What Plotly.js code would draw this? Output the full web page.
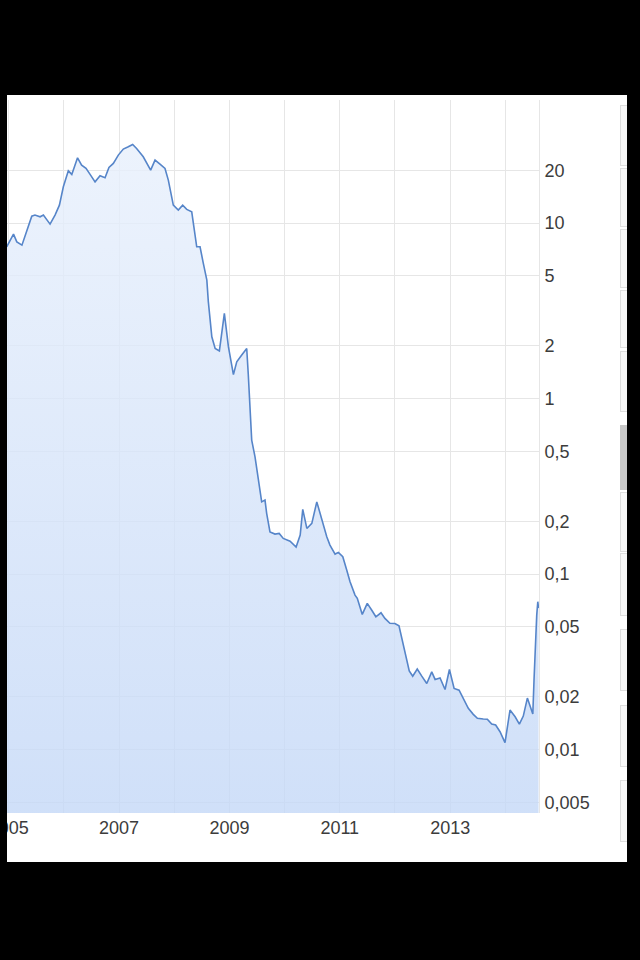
<!DOCTYPE html>
<html>
<head>
<meta charset="utf-8">
<script src="https://cdn.plot.ly/plotly-3.0.1.min.js"></script>
<style>
  html, body { margin: 0; padding: 0; background: #000; width: 640px; height: 960px; overflow: hidden; }
  #panel { position: absolute; left: 7px; top: 95px; width: 620px; height: 767px; background: #fff; overflow: hidden; }
  #chart { position: absolute; left: 0; top: 0; width: 620px; height: 767px; }
  .box { position: absolute; left: 613px; width: 12px; background: #f8f8f8; border: 1px solid #dedede; box-sizing: border-box; }
  .bar { position: absolute; left: 613px; width: 12px; background: #c9c9c9; }
</style>
</head>
<body>
<div id="panel">
  <div id="chart"></div>
</div>
<script>
// Dates of the series points
const dates = [
  '2004-12-18','2005-02-01','2005-02-23','2005-03-29','2005-04-28','2005-06-02','2005-06-23','2005-07-27','2005-08-18','2005-10-01',
  '2005-11-03','2005-12-02','2005-12-28','2006-01-30','2006-02-22','2006-04-01','2006-04-28','2006-05-27','2006-06-23','2006-07-26',
  '2006-08-28','2006-09-30','2006-10-26','2006-11-24','2006-12-27','2007-01-29','2007-03-03','2007-04-01','2007-04-27','2007-06-10',
  '2007-07-29','2007-08-27','2007-09-29','2007-11-01','2007-11-23','2007-12-26','2008-01-28','2008-02-26','2008-03-24','2008-04-26',
  '2008-05-29','2008-06-20','2008-07-10','2008-08-04','2008-08-14','2008-09-06','2008-09-28','2008-10-26','2008-11-28','2008-12-25',
  '2009-01-27','2009-02-18','2009-03-23','2009-04-25','2009-05-05','2009-05-17','2009-05-28','2009-06-19','2009-07-07','2009-07-22',
  '2009-08-02','2009-08-24','2009-09-04','2009-09-26','2009-10-29','2009-11-26','2009-12-23','2010-02-06','2010-03-18','2010-04-14',
  '2010-05-01','2010-05-28','2010-06-30','2010-08-02','2010-09-04','2010-10-07','2010-10-28','2010-12-01','2010-12-23','2011-01-21',
  '2011-02-16','2011-03-10','2011-04-12','2011-04-27','2011-05-30','2011-07-02','2011-07-31','2011-08-28','2011-10-01','2011-10-27',
  '2011-11-29','2012-01-01','2012-01-28','2012-02-22','2012-03-14','2012-04-05','2012-04-28','2012-05-28','2012-06-27','2012-07-30',
  '2012-09-01','2012-09-23','2012-10-26','2012-11-28','2012-12-27','2013-01-27','2013-03-01','2013-03-29','2013-05-01','2013-06-03',
  '2013-06-30','2013-08-08','2013-09-04','2013-10-03','2013-10-29','2013-11-27','2013-12-30','2014-02-01','2014-03-07','2014-04-04',
  '2014-04-30','2014-05-27','2014-06-14','2014-07-02','2014-07-10','2014-07-17','2014-07-28','2014-08-04','2014-08-09'
];
// Series values
const values = [
  7.33, 8.66, 7.82, 7.49, 8.92, 10.96, 11.11, 10.86, 11.11, 9.87,
  11.11, 12.66, 16.10, 19.86, 18.95, 23.56, 21.41, 20.50, 18.95, 17.19,
  18.60, 18.12, 20.77, 21.89, 24.41, 26.41, 27.22, 28.08, 26.65, 23.87,
  20.04, 22.86, 21.69, 20.50, 17.58, 12.66, 11.86, 12.66, 11.97, 11.60,
  7.33, 7.33, 6.00, 4.73, 3.56, 2.25, 1.93, 1.87, 3.06, 1.97,
  1.37, 1.62, 1.77, 1.93, 1.39, 0.939, 0.580, 0.466, 0.375, 0.301,
  0.258, 0.264, 0.222, 0.174, 0.169, 0.1705, 0.1597, 0.154, 0.1425, 0.167,
  0.2337, 0.182, 0.1945, 0.258, 0.203, 0.1632, 0.1463, 0.130, 0.1329, 0.1255,
  0.1054, 0.0904, 0.0759, 0.0727, 0.0589, 0.0681, 0.0624, 0.0571, 0.0602, 0.0559,
  0.0524, 0.0523, 0.0507, 0.0411, 0.0331, 0.0281, 0.0262, 0.0288, 0.0262, 0.0238,
  0.0277, 0.0251, 0.0256, 0.0220, 0.0286, 0.0223, 0.0218, 0.0196, 0.01717, 0.01587,
  0.01506, 0.01492, 0.0149, 0.01397, 0.01379, 0.01264, 0.01096, 0.0168, 0.01538, 0.01397,
  0.01552, 0.01965, 0.01793, 0.01593, 0.0249, 0.0369, 0.0584, 0.0696, 0.064
];
// Axis ticks
const xTickVals = ['2005-01-01','2006-01-01','2007-01-01','2008-01-01','2009-01-01','2010-01-01','2011-01-01','2012-01-01','2013-01-01','2014-01-01'];
const xTickText = ['2005','','2007','','2009','','2011','','2013',''];
const yTickVals = [0.005, 0.01, 0.02, 0.05, 0.1, 0.2, 0.5, 1, 2, 5, 10, 20, 50];
const yTickText = ['0,005','0,01','0,02','0,05','0,1','0,2','0,5','1','2','5','10','20',''];
const xRange = ['2004-12-20', '2014-08-12'];
const yRange = [0.00435, 50.3];

const trace = {
  x: dates,
  y: values,
  type: 'scatter',
  mode: 'lines',
  line: { color: '#5685c9', width: 1.6 },
  fill: 'tozeroy',
  fillgradient: {
    type: 'vertical',
    start: yRange[0],
    stop: 30,
    colorscale: [[0, 'rgba(196,216,247,0.8)'], [1, 'rgba(232,240,252,0.8)']]
  },
  hoverinfo: 'skip'
};

const layout = {
  width: 620,
  height: 767,
  margin: { l: 0, r: 88, t: 5, b: 49, pad: 0 },
  paper_bgcolor: '#ffffff',
  plot_bgcolor: '#ffffff',
  showlegend: false,
  font: { family: '"Liberation Sans", Arial, Helvetica, sans-serif', size: 18, color: '#3c3c3c' },
  xaxis: {
    type: 'date',
    range: xRange,
    tickmode: 'array',
    tickvals: xTickVals,
    ticktext: xTickText,
    showgrid: true,
    gridcolor: '#e6e6e6',
    gridwidth: 1,
    zeroline: false,
    showline: false,
    ticks: '',
    ticklabelstandoff: 2,
    ticklabeloverflow: 'allow',
    tickfont: { size: 18, color: '#3c3c3c' },
    fixedrange: true
  },
  yaxis: {
    type: 'log',
    side: 'right',
    range: [Math.log10(yRange[0]), Math.log10(yRange[1])],
    tickmode: 'array',
    tickvals: yTickVals,
    ticktext: yTickText,
    showgrid: true,
    gridcolor: '#e6e6e6',
    gridwidth: 1,
    zeroline: false,
    showline: true,
    linecolor: '#e6e6e6',
    linewidth: 1,
    ticks: '',
    ticklabelstandoff: 1,
    tickfont: { size: 18, color: '#3c3c3c' },
    fixedrange: true
  }
};

Plotly.newPlot('chart', [trace], layout, { staticPlot: true, displayModeBar: false });

// side panel boxes (decorative frame elements)
const boxSpans = [[105,166],[168,227],[229,288],[290,348],[351,412],[492,552],[553,616],[629,691],[705,767],[780,842]];
const panel = document.getElementById('panel');
boxSpans.forEach(function (s) {
  const d = document.createElement('div');
  d.className = 'box';
  d.style.top = (s[0] - 95) + 'px';
  d.style.height = (s[1] - s[0]) + 'px';
  panel.appendChild(d);
});
const bar = document.createElement('div');
bar.className = 'bar';
bar.style.top = (425 - 95) + 'px';
bar.style.height = (490 - 425) + 'px';
panel.appendChild(bar);
</script>
</body>
</html>
